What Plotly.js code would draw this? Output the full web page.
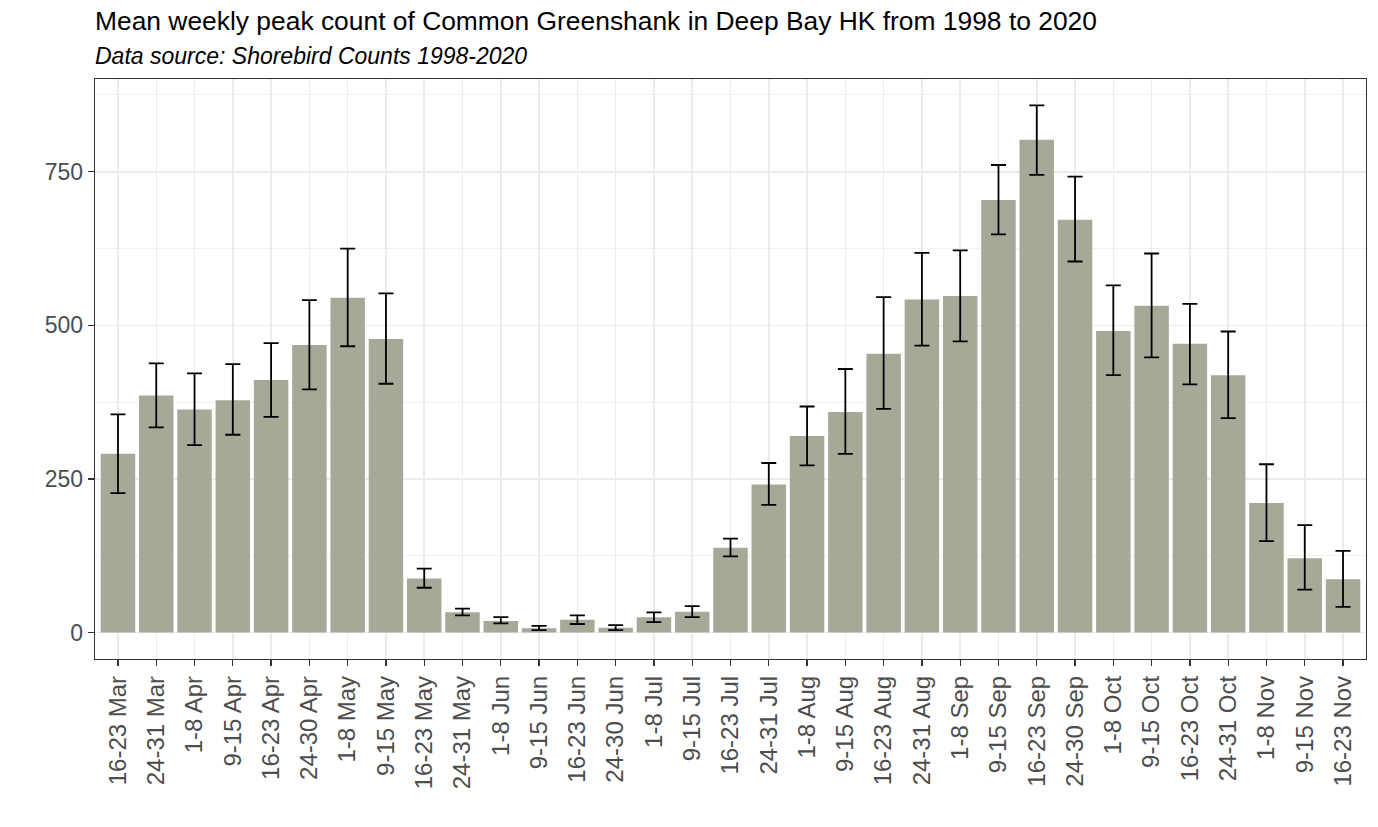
<!DOCTYPE html>
<html>
<head>
<meta charset="utf-8">
<script src="https://cdn.plot.ly/plotly-3.0.1.min.js"></script>
<style>
  html, body { margin: 0; padding: 0; background: #ffffff; }
  #chart { width: 1378px; height: 827px; }
</style>
</head>
<body>
<div id="chart"></div>
<script>
// Week categories
const weeks = [
  "16-23 Mar", "24-31 Mar", "1-8 Apr", "9-15 Apr", "16-23 Apr", "24-30 Apr",
  "1-8 May", "9-15 May", "16-23 May", "24-31 May", "1-8 Jun", "9-15 Jun",
  "16-23 Jun", "24-30 Jun", "1-8 Jul", "9-15 Jul", "16-23 Jul", "24-31 Jul",
  "1-8 Aug", "9-15 Aug", "16-23 Aug", "24-31 Aug", "1-8 Sep", "9-15 Sep",
  "16-23 Sep", "24-30 Sep", "1-8 Oct", "9-15 Oct", "16-23 Oct", "24-31 Oct",
  "1-8 Nov", "9-15 Nov", "16-23 Nov"
];

// Mean weekly peak count
const meanCount = [
  291, 386, 363, 378, 411, 468,
  545, 478, 88, 33, 19, 7,
  21, 8, 25, 34, 138, 241,
  320, 359, 454, 542, 548, 704,
  802, 672, 491, 532, 470, 419,
  211, 121, 87
];

// Error bar lower bounds
const lowerBound = [
  227, 334, 305, 322, 351, 396,
  466, 405, 73, 28, 15, 4,
  14, 4, 17, 25, 124, 208,
  272, 291, 364, 467, 474, 648,
  745, 604, 419, 448, 404, 349,
  149, 70, 42
];

// Error bar upper bounds
const upperBound = [
  355, 438, 422, 437, 471, 541,
  625, 552, 104, 39, 25, 11,
  28, 12, 33, 43, 153, 276,
  368, 429, 546, 618, 622, 761,
  858, 742, 565, 617, 535, 490,
  274, 175, 133
];

const yTickVals = [0, 250, 500, 750];
const yTickText = ["0", "250", "500", "750"];

const titleText = "Mean weekly peak count of Common Greenshank in Deep Bay HK from 1998 to 2020";
const subtitleText = "Data source: Shorebird Counts 1998-2020";

const errPlus = meanCount.map((v, i) => upperBound[i] - v);
const errMinus = meanCount.map((v, i) => v - lowerBound[i]);

const FONT = "Liberation Sans, Arial, Helvetica, sans-serif";

const trace = {
  type: "bar",
  x: weeks,
  y: meanCount,
  marker: { color: "#a6a898", line: { width: 0 } },
  error_y: {
    type: "data",
    symmetric: false,
    array: errPlus,
    arrayminus: errMinus,
    color: "#000000",
    thickness: 1.8,
    width: 7.5
  },
  hoverinfo: "x+y"
};

const layout = {
  width: 1378,
  height: 827,
  paper_bgcolor: "#ffffff",
  plot_bgcolor: "#ffffff",
  margin: { l: 95, r: 12, t: 79, b: 168, pad: 0 },
  bargap: 0.1,
  showlegend: false,
  title: {
    text: titleText,
    font: { family: FONT, size: 26.4, color: "#000000" },
    xref: "container",
    x: 95 / 1378,
    xanchor: "left",
    yref: "container",
    y: 1 - 20.6 / 827,
    yanchor: "middle"
  },
  annotations: [{
    text: "<i>" + subtitleText + "</i>",
    xref: "paper",
    yref: "paper",
    x: 0,
    xshift: -2,
    y: 1.0397,
    xanchor: "left",
    yanchor: "middle",
    showarrow: false,
    font: { family: FONT, size: 23, color: "#000000" }
  }],
  xaxis: {
    type: "category",
    categoryorder: "array",
    categoryarray: weeks,
    range: [-0.6, weeks.length - 1 + 0.6],
    tickangle: -90,
    tickfont: { family: FONT, size: 24, color: "#4d4d4d" },
    ticks: "outside",
    ticklen: 6,
    tickwidth: 1.3,
    tickcolor: "#333333",
    showgrid: true,
    gridcolor: "#ebebeb",
    gridwidth: 1.5,
    showline: true,
    linecolor: "#333333",
    linewidth: 1.3,
    mirror: true,
    zeroline: false,
    fixedrange: true
  },
  yaxis: {
    range: [-43, 901],
    tickmode: "array",
    tickvals: yTickVals,
    ticktext: yTickText,
    tickfont: { family: FONT, size: 23, color: "#4d4d4d" },
    ticks: "outside",
    ticklen: 6,
    tickwidth: 1.3,
    tickcolor: "#333333",
    showgrid: true,
    gridcolor: "#ebebeb",
    gridwidth: 1.5,
    minor: {
      tickmode: "array",
      tickvals: [125, 375, 625, 875],
      showgrid: true,
      gridcolor: "#f0f0f0",
      gridwidth: 0.9,
      ticks: ""
    },
    showline: true,
    linecolor: "#333333",
    linewidth: 1.3,
    mirror: true,
    zeroline: false,
    fixedrange: true
  }
};

Plotly.newPlot("chart", [trace], layout, { displayModeBar: false, staticPlot: true });
</script>
</body>
</html>
